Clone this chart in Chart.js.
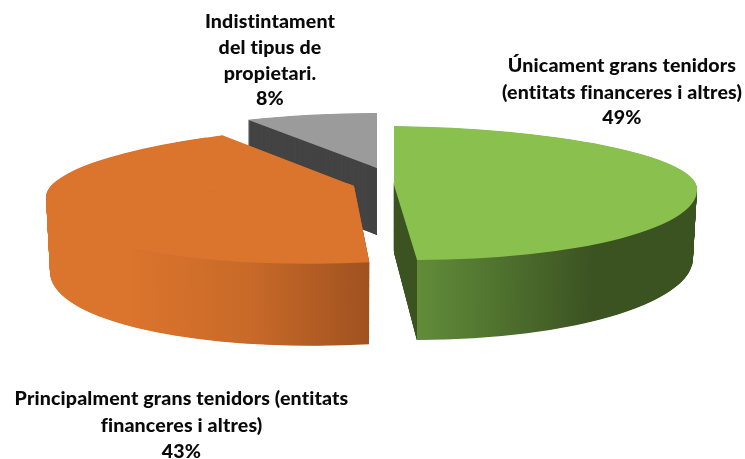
<!DOCTYPE html>
<html>
<head>
<meta charset="utf-8">
<script src="https://cdn.jsdelivr.net/npm/chart.js@4"></script>
<style>
html,body{margin:0;padding:0;background:#fff}
#wrap{position:relative;width:745px;height:459px}
</style>
</head>
<body>
<div id="wrap"><canvas id="c" width="745" height="459"></canvas></div>
<script>
const categories = [
  "Únicament grans tenidors (entitats financeres i altres)",
  "Principalment grans tenidors (entitats financeres i altres)",
  "Indistintament del tipus de propietari."
];
const shares = [49, 43, 8];
const labelLines = [
  ["Únicament grans tenidors", "(entitats financeres i altres)", "49%"],
  ["Principalment grans tenidors (entitats", "financeres i altres)", "43%"],
  ["Indistintament", "del tipus de", "propietari.", "8%"]
];
const topColors = ["#8AC14E", "#DB742C", "#9B9B9B"];

// Placement of each label (centre x, first baseline y, line steps)
const labelPlace = [
  {x: 622, y: 72, step: [27, 25]},
  {x: 181.5, y: 405, step: [27, 26]},
  {x: 270, y: 28, step: [26, 26, 25]}
];
// Projection of each exploded slice into the tilted view
const view = [
  {cx: 394, cy: 185, a: 303, bUp: 59, bDown: 75, tiltY: 4, skewUp: 0, skewDown: 4, depth: 68, grow: 12, shrink: 4},
  {cx: 354, cy: 186, a: 308, bUp: 64, bDown: 77, tiltY: -11, skewUp: -19, skewDown: -4, depth: 74, grow: 8, shrink: 4, roundUp: 61.5},
  {cx: 377, cy: 168, a: 268, bUp: 55, bDown: 60, tiltY: 0, skewUp: 0, skewDown: 0, depth: 67, grow: 0, shrink: 0}
];
const drawOrder = [2, 1, 0];

function wallPaint(ctx, el, i, v) {
  const R = el.outerRadius;
  const ex = X => el.x + (X - v.cx) * R / v.a;
  const L = el.x - R, W = 2 * R;
  const frac = X => Math.min(1, Math.max(0, (ex(X) - L) / W));
  const g = ctx.createLinearGradient(L, 0, L + W, 0);
  if (i === 0) {
    const tip = (el.x + R * Math.cos(el.endAngle) - L) / W;
    g.addColorStop(0, "#3B5321");
    g.addColorStop(tip, "#3B5321");
    g.addColorStop(tip + 0.0005, "#628C39");
    g.addColorStop(frac(470), "#557A32");
    g.addColorStop(frac(590), "#3B5321");
    g.addColorStop(1, "#3B5321");
    return g;
  }
  if (i === 1) {
    g.addColorStop(0, "#DB742C");
    g.addColorStop(frac(130), "#DB742C");
    g.addColorStop(frac(250), "#C96A29");
    g.addColorStop(frac(372), "#A05220");
    g.addColorStop(1, "#A05220");
    return g;
  }
  return "#444444";
}

function drawHalves(ctx, el, v, offset, paint) {
  const R = el.outerRadius;
  const cy = v.cy + offset * v.depth;
  const a = v.a - offset * v.shrink;
  const bDown = v.bDown + offset * v.grow;
  const saved = el.options;
  el.options = Object.assign({}, saved, {backgroundColor: paint});
  const parts = [
    {b: bDown, skew: v.skewDown, top: el.y - 8, h: 2 * R + 8}
  ];
  if (v.roundUp) parts.push({b: v.roundUp, skew: 0, top: el.y - 2 * R, h: 2 * R});
  parts.push({b: v.bUp, skew: v.skewUp, top: el.y - 2 * R, h: 2 * R});
  for (const p of parts) {
    ctx.save();
    ctx.transform(a / R, v.tiltY / R, p.skew / R, p.b / R,
      v.cx - (a / R) * el.x - (p.skew / R) * el.y,
      cy - (v.tiltY / R) * el.x - (p.b / R) * el.y);
    ctx.beginPath();
    ctx.rect(el.x - 2 * R, p.top, 4 * R, p.h);
    ctx.clip();
    el.draw(ctx);
    ctx.restore();
  }
  el.options = saved;
}

const tiltedPie = {
  id: "tiltedPie",
  beforeDatasetsDraw(chart) {
    const ctx = chart.ctx;
    const arcs = chart.getDatasetMeta(0).data;
    for (const i of drawOrder) {
      const el = arcs[i], v = view[i];
      const paint = wallPaint(ctx, el, i, v);
      const steps = Math.round(v.depth * 2);
      for (let s = steps; s >= 1; s--) {
        drawHalves(ctx, el, v, s / steps, paint);
      }
      drawHalves(ctx, el, v, 0, topColors[i]);
    }
    return false;
  },
  afterDraw(chart) {
    const ctx = chart.ctx;
    ctx.save();
    ctx.fillStyle = "#0a0a0a";
    ctx.font = "900 19.6px Lato";
    ctx.letterSpacing = "0.15px";
    ctx.textAlign = "center";
    ctx.textBaseline = "alphabetic";
    labelLines.forEach((lines, i) => {
      let y = labelPlace[i].y;
      lines.forEach((line, k) => {
        ctx.fillText(line, labelPlace[i].x, y);
        y += labelPlace[i].step[k] || 0;
      });
    });
    ctx.restore();
  }
};

new Chart(document.getElementById("c"), {
  type: "pie",
  data: {
    labels: categories,
    datasets: [{data: shares, backgroundColor: topColors, borderWidth: 0}]
  },
  options: {
    responsive: false,
    animation: false,
    plugins: {legend: {display: false}, tooltip: {enabled: false}}
  },
  plugins: [tiltedPie]
});
</script>
</body>
</html>
